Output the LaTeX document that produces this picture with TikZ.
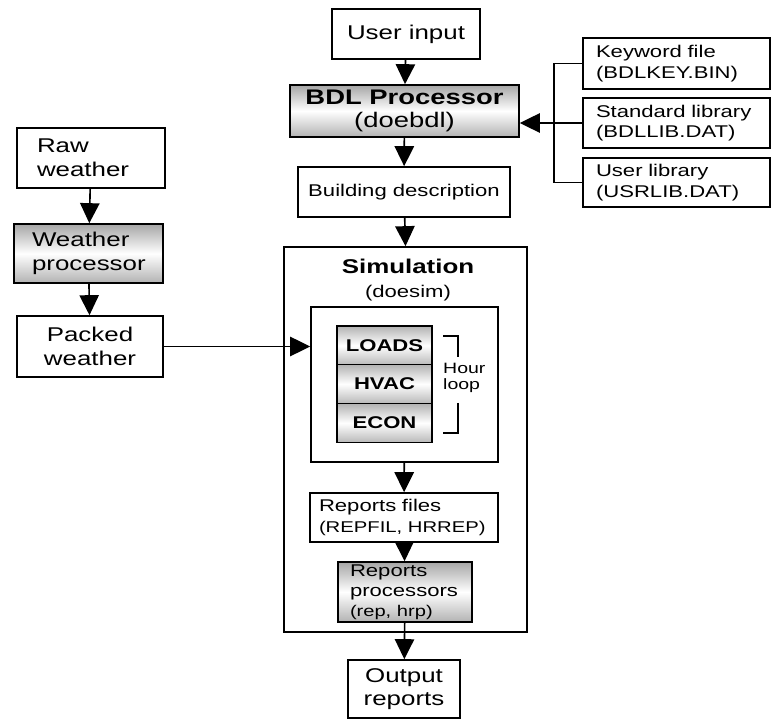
\documentclass[tikz,border=0pt]{standalone}
\usepackage{fontspec}
\setmainfont[FakeStretch=1.3]{Liberation Sans}
\usetikzlibrary{arrows.meta}

\begin{document}
\begin{tikzpicture}[every node/.style={font=\fontsize{17pt}{20.5pt}\selectfont},
    box/.style={draw, line width=1.4pt, fill=white, inner sep=0pt},
    shadebox/.style={box, top color=gray!70, bottom color=gray!60, middle color=white},
    modbox/.style={box, top color=gray!60, bottom color=gray!55, middle color=white},
    small/.style={font=\fontsize{14.5pt}{17.5pt}\selectfont},
    flow/.style={line width=1.4pt, -{Triangle[length=0.6cm, width=0.58cm]}}]
    \useasboundingbox (0,0) rectangle (23.37,-21.63);

    % main column
    \node[box, minimum width=4.44cm, minimum height=1.5cm] (uin) at (12.18,-1.02) {User input};
    \node[shadebox, minimum width=6.87cm, minimum height=1.56cm, align=center,
      font=\fontsize{18pt}{19pt}\selectfont] (bdl) at (12.135,-3.33)
      {\textbf{BDL Processor}\\(doebdl)};
    \node[box, small, minimum width=6.36cm, minimum height=1.5cm] (bdesc) at (12.12,-5.76)
      {Building description};

    % library files
    \node[box, small, text width=4.83cm, inner xsep=0.39cm, minimum height=1.53cm,
      align=left] (kwf) at (20.295,-1.905) {Keyword file\\(BDLKEY.BIN)};
    \node[box, small, text width=4.83cm, inner xsep=0.39cm, minimum height=1.5cm,
      align=left] (stdlib) at (20.295,-3.69) {Standard library\\(BDLLIB.DAT)};
    \node[box, small, text width=4.83cm, inner xsep=0.39cm, minimum height=1.47cm,
      align=left] (usrlib) at (20.295,-5.475) {User library\\(USRLIB.DAT)};

    % weather column
    \node[box, text width=3.24cm, inner xsep=0.6cm, minimum height=1.8cm,
      align=left] (rawwx) at (2.73,-4.74) {Raw\\weather};
    \node[shadebox, text width=3.39cm, inner xsep=0.54cm, minimum height=1.77cm,
      align=left] (wxproc) at (2.655,-7.605) {Weather\\processor};
    \node[box, minimum width=4.38cm, minimum height=1.83cm, align=center]
      (packwx) at (2.7,-10.395) {Packed\\weather};

    % simulation
    \node[box, minimum width=7.29cm, minimum height=11.55cm] (sim) at (12.165,-13.185) {};
    \node[align=center] (simtitle) at (12.24,-8.4)
      {\textbf{Simulation}\\{\fontsize{14.5pt}{14.5pt}\selectfont(doesim)}};
    \node[box, minimum width=5.61cm, minimum height=4.65cm] (inner) at (12.135,-11.535) {};
    \node[modbox, small, minimum width=2.85cm, minimum height=1.17cm] (loads)
      at (11.535,-10.365) {\textbf{LOADS}};
    \node[modbox, small, minimum width=2.85cm, minimum height=1.17cm] (hvac)
      at (11.535,-11.52) {\textbf{HVAC}};
    \node[modbox, small, minimum width=2.85cm, minimum height=1.17cm] (econ)
      at (11.535,-12.69) {\textbf{ECON}};
    \node[anchor=west, align=left, inner sep=0pt,
      font=\fontsize{12.8pt}{14pt}\selectfont] (hloop) at (13.29,-11.34) {Hour\\loop};
    \draw[line width=1.4pt] (13.29,-10.08) -- (13.74,-10.08) -- (13.74,-10.71);
    \draw[line width=1.4pt] (13.74,-12.09) -- (13.74,-12.99) -- (13.29,-12.99);

    \node[box, small, text width=5.1cm, inner xsep=0.27cm, minimum height=1.47cm,
      align=left] (repfiles) at (12.12,-15.525)
      {Reports files\\{\fontsize{13.3pt}{13.3pt}\selectfont(REPFIL, HRREP)}};
    \node[shadebox, text width=3.3cm, inner xsep=0.36cm, minimum height=1.8cm,
      align=left, font=\fontsize{14.5pt}{17pt}\selectfont] (repproc) at (12.15,-17.76)
      {Reports\\processors\\{\fontsize{13.2pt}{13.2pt}\selectfont(rep, hrp)}};
    \node[box, minimum width=3.36cm, minimum height=1.74cm, align=center,
      font=\fontsize{17pt}{19pt}\selectfont] (outrep) at (12.12,-20.67) {Output\\reports};

    % connectors
    \draw[flow] (uin) -- (bdl);
    \draw[flow] (bdl) -- (bdesc);
    \draw[flow] (bdesc) -- (sim.north);
    \draw[line width=1.4pt] (kwf.west) -- ++(-0.84,0) |- (usrlib.west);
    \draw[flow] (stdlib.west) -- (bdl.east |- stdlib.west);
    \draw[flow] (rawwx) -- (wxproc);
    \draw[flow] (wxproc) -- (packwx);
    \draw[flow] (packwx.east) -- (inner.west |- packwx.east);
    \draw[flow] (inner) -- (repfiles);
    \draw[flow] (repfiles) -- (repproc);
    \draw[flow] (repproc) -- (outrep);
  \end{tikzpicture}
\end{document}
